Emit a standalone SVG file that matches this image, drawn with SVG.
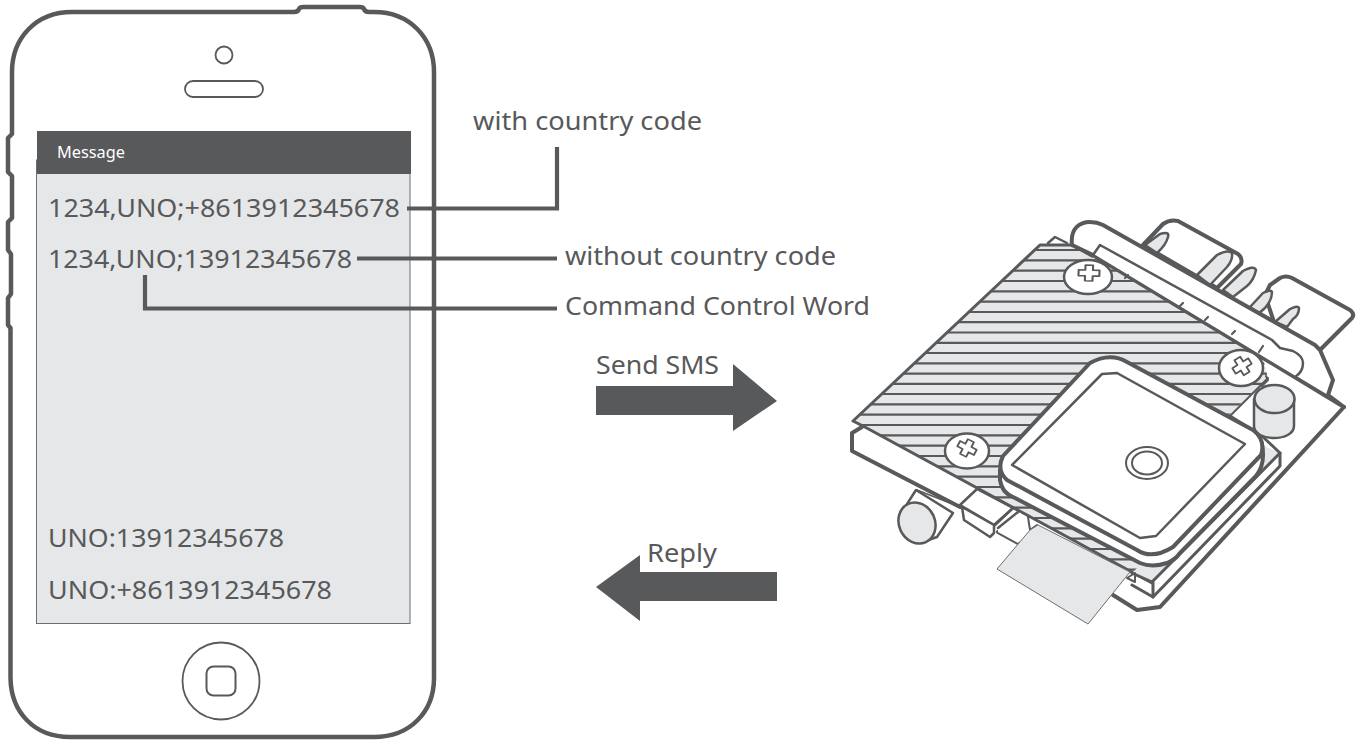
<svg xmlns="http://www.w3.org/2000/svg" width="1357" height="740" viewBox="0 0 1357 740">
<style>
text{font-family:"Noto Sans","Open Sans","Liberation Sans",sans-serif;font-size:26px;fill:#58595b}
.d{fill:none;stroke:#58595b;stroke-width:3;stroke-linejoin:round;stroke-linecap:round}
.t{fill:none;stroke:#58595b;stroke-width:4;stroke-linejoin:round;stroke-linecap:round}
.w{fill:#fff;stroke:#58595b;stroke-width:2.500;stroke-linejoin:round}
.tw{fill:#fff;stroke:#58595b;stroke-width:4;stroke-linejoin:round}
.g{fill:#e6e7e8;stroke:#58595b;stroke-width:2.500;stroke-linejoin:round}
.th{fill:none;stroke:#58595b;stroke-width:2.200}
.c{fill:none;stroke:#58595b;stroke-width:4.200}
.a{fill:#58595b}
</style>
<defs>
<path id="cross" d="M-4,-11H4V-4H11V4H4V11H-4V4H-11V-4H-4Z" fill="#fff" stroke="#58595b" stroke-width="2.200" stroke-linejoin="round"/>
<clipPath id="plate"><polygon points="853,421 1040,245 1073,245 1263,358 1268,378 1228,416 1180,470 1170,565 1152,583 863,426"/></clipPath>
</defs>
<g id="phone">
<path d="M72,12H294Q298,12 299,9Q300,7 303,7H360Q363,7 364,9Q365,12 369,12H374C410,12 434,38 434,72V678C434,712 410,737 374,737H70C34,737 11,712 10.500,678V328L8,325V298L11,294V254L8,250V222L12,218V176L8,172V138L12,134V72C12,38 36,12 72,12Z" fill="#fff" stroke="#58595b" stroke-width="4.500" stroke-linejoin="round"/>
<circle cx="224" cy="55" r="8.500" fill="none" stroke="#58595b" stroke-width="1.800"/>
<rect x="185" y="81" width="78" height="16" rx="8" fill="none" stroke="#58595b" stroke-width="1.800"/>
<circle cx="221" cy="681" r="38.500" fill="none" stroke="#58595b" stroke-width="1.800"/>
<rect x="206.500" y="666.500" width="29" height="29" rx="7" fill="none" stroke="#58595b" stroke-width="2"/>
<rect x="36.500" y="160" width="373.500" height="463.500" fill="#e6e7e8" stroke="#6d6e71" stroke-width="1"/>
<rect x="37" y="131" width="374" height="43" fill="#58595b"/>
<text x="57" y="158" style="font-size:16px;fill:#fff" textLength="68" lengthAdjust="spacingAndGlyphs">Message</text>
<text x="48" y="217" textLength="352" lengthAdjust="spacingAndGlyphs">1234,UNO;+8613912345678</text>
<text x="48" y="268" textLength="304" lengthAdjust="spacingAndGlyphs">1234,UNO;13912345678</text>
<text x="48" y="547" textLength="236" lengthAdjust="spacingAndGlyphs">UNO:13912345678</text>
<text x="48" y="599" textLength="284" lengthAdjust="spacingAndGlyphs">UNO:+8613912345678</text>
</g>
<g id="connectors">
<path class="c" d="M407,208.500H557V147"/>
<path class="c" d="M357,258.500H557"/>
<path class="c" d="M145,275V308.500H557"/>
<polygon class="a" points="596,386 733,386 733,364 777,401 733,431 733,415 596,415"/>
<polygon class="a" points="777,572 640,572 640,555 596,587 640,621 640,601 777,601"/>
</g>
<g id="labels">
<text x="473" y="130" textLength="229" lengthAdjust="spacingAndGlyphs">with country code</text>
<text x="565" y="265" textLength="271" lengthAdjust="spacingAndGlyphs">without country code</text>
<text x="565" y="315" textLength="305" lengthAdjust="spacingAndGlyphs">Command Control Word</text>
<text x="596" y="374" textLength="123" lengthAdjust="spacingAndGlyphs">Send SMS</text>
<text x="647" y="562" textLength="70" lengthAdjust="spacingAndGlyphs">Reply</text>
</g>
<g id="device">
<!-- rear connectors -->
<path class="tw" d="M1143,245L1163,224Q1170,219 1178,221L1238,254Q1243,258 1241,264L1217,288L1143,245Z"/>
<path class="g" d="M1145,245L1160,234Q1170,231 1168,237Q1166,245 1157,253Z"/>
<path class="g" d="M1197,275L1217,255Q1228,249 1232,253Q1233,260 1227,267L1210,285Z"/>
<path class="g" d="M1223,290L1243,271Q1254,265 1256,270Q1254,280 1247,286L1233,297Z"/>
<path class="tw" d="M1265,295L1270,285L1280,278Q1286,275 1292,278L1350,310Q1355,314 1352,318L1320,350L1280,340Z"/>
<path class="g" d="M1250,307L1263,293Q1271,289 1272,292Q1272,300 1265,308L1258,314Z"/>
<path class="g" d="M1275,322L1290,309Q1298,305 1299,308Q1299,315 1293,319L1287,327Z"/>
<!-- hatched plate -->
<polygon points="853,421 1040,245 1073,245 1263,358 1268,378 1228,416 1180,470 1170,565 1152,583 863,426" fill="#e6e7e8"/>
<g clip-path="url(#plate)">
<path class="th" d="M850,250H1300M850,260.300H1300M850,270.600H1300M850,281H1300M850,291.300H1300M850,301.600H1300M850,312H1300M850,322.200H1300M850,332.500H1300M850,342.800H1300M850,353H1300M850,363.300H1300M850,373.600H1300M850,383.800H1300M850,394H1300M850,404.300H1300M850,414.600H1300M850,425H1300M850,435.300H1300M850,445.600H1300M850,456H1300M850,466.300H1300M850,476.600H1300M850,487H1300M850,497.300H1300M850,507.600H1300M850,518H1300M850,528.300H1300M850,538.600H1300M850,549H1300M850,559.300H1300M850,569.600H1300M850,580H1300"/>
</g>
<path class="d" d="M863,426L853,421L1040,245H1073M863,426L1152,583"/>
<path class="d" d="M1048,243L1055,237L1067,243" style="stroke-width:2.500"/>
<path class="d" d="M1268,378L1230,416" style="stroke-width:2"/>
<!-- bracket -->
<path d="M1072,245C1070,228 1080,222 1090,222Q1097,222 1103,225L1315,345L1320,350L1333,380L1328,395L1344,407L1263,358L1093,255Z" fill="#fff" stroke="#58595b" stroke-width="4" stroke-linejoin="round"/>
<path d="M1072,245L1093,257" fill="none" stroke="#58595b" stroke-width="2.500"/>
<path class="w" d="M1093,255L1100,245L1272,340L1280,348L1293,351Q1303,356 1303,363Q1303,372 1295,377L1093,255Z"/>
<path class="d" d="M1128,275L1125,278M1183,303L1180,306M1208,317L1205,320M1235,331L1232,334M1263,346L1259,352" style="stroke-width:2.200"/>
<!-- board -->
<path class="t" d="M862,427L852,433V451L960,507"/>
<path class="t" d="M1344,407L1160,607L1137,610L1113,595"/>
<path class="t" d="M998,532L1018,543"/>
<polygon points="1262,445 1280,453 1152,582 1132,573" fill="#e6e7e8"/>
<path class="d" d="M1230,416L1262,436L1280,453V466L1153,597L1132,585"/>
<path class="d" d="M1152,582L1280,453M1153,597V582M1132,573L1152,582"/>
<!-- left cylinder -->
<path class="w" d="M916,490L953,513L937,537L920,543L900,515Z"/>
<ellipse class="g" cx="917" cy="523" rx="18" ry="21" transform="rotate(-25 917 523)"/>
<path class="d" d="M917,490L960,507" style="stroke-width:1.500"/>
<!-- connector block -->
<path class="w" d="M977,489L960,505L994,525L1013,508Z"/>
<path class="w" d="M962,507L964,520L990,537L994,533V525Z"/>
<path class="w" d="M998,528L1018,512L1028,518V530L1018,543L998,532Z" style="stroke:none"/>
<path class="d" d="M995,525L1013,508M998,528L1018,512" style="stroke-width:2.500"/>
<path class="d" d="M1028,517L1030,530L1037,525" style="stroke-width:2"/>
<!-- right cylinder -->
<path class="g" d="M1254,399V426C1254,434 1264,438 1274,438S1294,434 1294,426V399Z"/>
<ellipse class="g" cx="1274.500" cy="399" rx="20" ry="14"/>
<!-- screws -->
<ellipse class="w" cx="1088" cy="277" rx="24" ry="17"/>
<use href="#cross" transform="translate(1089 273) scale(.95 .72) rotate(2)"/>
<path class="d" d="M1266,376L1268,380L1262,386" style="stroke-width:2"/>
<ellipse class="w" cx="1241" cy="368" rx="22" ry="18"/>
<use href="#cross" transform="translate(1242 366) rotate(-32) scale(.85 .8)"/>
<ellipse class="w" cx="967" cy="451" rx="22" ry="17.500"/>
<use href="#cross" transform="translate(967 448) rotate(28) scale(.85 .75)"/>
<!-- module -->
<path class="tw" d="M1000,480C1002,490 1006,494 1013,497L1140,563Q1152,568 1167,563Q1175,560 1180,553L1256,476C1264,466 1264,455 1262,445L1000,470Z"/>
<path class="tw" d="M1003,456L1090,363Q1110,352 1127,362L1253,430Q1266,440 1261,455L1173,547Q1152,560 1137,550L1007,480Q996,470 1003,456Z"/>
<polygon class="w" points="1102,374 1117,373 1245,444 1156,536 1140,538 1012,465"/>
<ellipse cx="1147" cy="463" rx="21" ry="16" fill="none" stroke="#58595b" stroke-width="2"/>
<ellipse cx="1147" cy="463" rx="15" ry="11.500" fill="none" stroke="#58595b" stroke-width="2"/>
<!-- sticker -->
<path d="M1127,578L1135,573V582Z" class="d" style="stroke-width:2"/>
<polygon points="997,569 1030,530 1038,525 1130,572 1088,624" fill="#e6e7e8" stroke="#6d6e71" stroke-width="1"/>
</g>
</svg>
